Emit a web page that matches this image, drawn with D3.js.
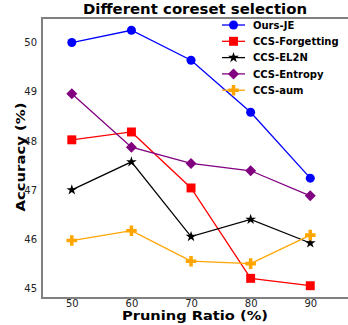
<!DOCTYPE html>
<html>
<head>
<meta charset="utf-8">
<script src="https://cdn.jsdelivr.net/npm/d3@7"></script>
<style>
  body { margin: 0; background: #fff; }
  svg { display: block; font-family: "DejaVu Sans", sans-serif; }
</style>
</head>
<body>
<svg id="chart" width="348" height="325"></svg>
<script>
const ratios = [50, 60, 70, 80, 90];
const seriesNames = ["Ours-JE", "CCS-Forgetting", "CCS-EL2N", "CCS-Entropy", "CCS-aum"];
const oursJE = [50.0, 50.25, 49.64, 48.58, 47.24];
const ccsForgetting = [48.02, 48.18, 47.04, 45.2, 45.05];
const ccsEL2N = [47.0, 47.57, 46.05, 46.4, 45.92];
const ccsEntropy = [48.96, 47.87, 47.54, 47.39, 46.88];
const ccsAum = [45.97, 46.17, 45.55, 45.5, 46.08];
const yTicks = [45, 46, 47, 48, 49, 50];

const colors = ["#0000ff", "#ff0000", "#000000", "#800080", "#ffa500"];
const symbols = [
    {type: d3.symbolCircle, size: 64, rotate: 0},
    {type: d3.symbolSquare, size: 80, rotate: 0},
    {type: d3.symbolStar, size: 36, rotate: 0},
    {type: d3.symbolSquare, size: 60, rotate: 45},
    {type: d3.symbolCross, size: 62, rotate: 0}
];
const allSeries = [oursJE, ccsForgetting, ccsEL2N, ccsEntropy, ccsAum];

const svg = d3.select("#chart");

// plot area
const plotLeft = 42, plotTop = 18, plotBottom = 298, plotRight = 352;

const x = d3.scaleLinear().domain([45, 97]).range([plotLeft, plotRight]);
const y = d3.scaleLinear().domain([44.8, 50.5]).range([plotBottom, plotTop]);

// axes
const xAxis = svg.append("g")
    .attr("transform", `translate(0,${plotBottom})`)
    .call(d3.axisBottom(x).tickValues(ratios).tickFormat(d3.format("d")).tickSize(0).tickPadding(2));
const yAxis = svg.append("g")
    .attr("transform", `translate(${plotLeft},0)`)
    .call(d3.axisLeft(y).tickValues(yTicks).tickFormat(d3.format("d")).tickSize(0).tickPadding(5));

[xAxis, yAxis].forEach(ax => {
    ax.select(".domain").remove();
    ax.selectAll(".tick text")
        .style("font-family", "DejaVu Sans")
        .style("font-size", "10px")
        .attr("fill", "#222");
});

// frame
svg.append("rect")
    .attr("x", plotLeft).attr("y", plotTop)
    .attr("width", plotRight - plotLeft).attr("height", plotBottom - plotTop)
    .attr("fill", "none")
    .attr("stroke", "#808080")
    .attr("stroke-width", 2);

// series
const line = d3.line().x((d, i) => x(ratios[i])).y(d => y(d));

allSeries.forEach((vals, k) => {
    const g = svg.append("g");
    g.append("path")
        .attr("d", line(vals))
        .attr("fill", "none")
        .attr("stroke", colors[k])
        .attr("stroke-width", 1.3);
    g.selectAll("path.mark")
        .data(vals)
        .enter()
        .append("path")
        .attr("class", "mark")
        .attr("d", d3.symbol().type(symbols[k].type).size(symbols[k].size))
        .attr("transform", (d, i) => `translate(${x(ratios[i])},${y(d)}) rotate(${symbols[k].rotate})`)
        .attr("fill", colors[k]);
});

// legend, no frame, top right
const legend = svg.append("g").attr("transform", "translate(222,25)");
const legendItems = legend.selectAll("g")
    .data(seriesNames)
    .enter()
    .append("g")
    .attr("transform", (d, i) => `translate(0,${i * 16.3})`);

legendItems.append("line")
    .attr("x1", 0).attr("x2", 23)
    .attr("y1", 0).attr("y2", 0)
    .attr("stroke", (d, i) => colors[i])
    .attr("stroke-width", 1.3);
legendItems.append("path")
    .attr("d", (d, i) => d3.symbol().type(symbols[i].type).size(symbols[i].size)())
    .attr("transform", (d, i) => `translate(11.5,0) rotate(${symbols[i].rotate})`)
    .attr("fill", (d, i) => colors[i]);
legendItems.append("text")
    .attr("x", 31)
    .attr("y", 3.7)
    .style("font-size", "10px")
    .style("font-weight", "bold")
    .text(d => d);

// title and axis labels
svg.append("text")
    .attr("x", 195).attr("y", 14)
    .attr("text-anchor", "middle")
    .attr("textLength", 224)
    .attr("lengthAdjust", "spacingAndGlyphs")
    .style("font-size", "14px")
    .style("font-weight", "bold")
    .text("Different coreset selection");

svg.append("text")
    .attr("x", 195).attr("y", 320)
    .attr("text-anchor", "middle")
    .attr("textLength", 146)
    .attr("lengthAdjust", "spacingAndGlyphs")
    .style("font-size", "13px")
    .style("font-weight", "bold")
    .text("Pruning Ratio (%)");

svg.append("text")
    .attr("transform", "translate(25,157) rotate(-90)")
    .attr("text-anchor", "middle")
    .attr("textLength", 109)
    .attr("lengthAdjust", "spacingAndGlyphs")
    .style("font-size", "13px")
    .style("font-weight", "bold")
    .text("Accuracy (%)");
</script>
</body>
</html>
